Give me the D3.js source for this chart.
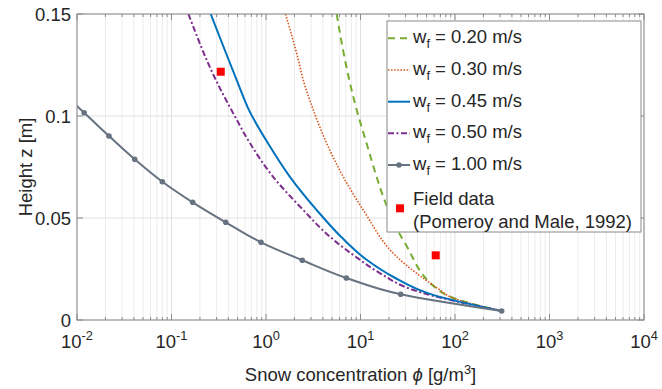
<!DOCTYPE html>
<html>
<head>
<meta charset="utf-8">
<script src="https://cdn.jsdelivr.net/npm/d3@7"></script>
<style>
  html, body { margin: 0; padding: 0; background: #fff; }
  svg { display: block; font-family: "Liberation Sans", Arial, Helvetica, sans-serif; }
</style>
</head>
<body>
<svg id="chart" width="662" height="389"></svg>
<script>
// ---- data ----
const seriesNames = ["0.20", "0.30", "0.45", "0.50", "1.00"];

const phi020 = [5.60, 6.85, 9.12, 11.6, 14.8, 17.4, 29.6, 75.1, 199, 312];
const z020   = [0.150, 0.1275, 0.1029, 0.0866, 0.0702, 0.0604, 0.0376, 0.0131, 0.0065, 0.0044];

const phi030 = [1.61, 2.20, 2.48, 3.17, 4.39, 6.57, 10.7, 24.2, 69.3, 88.5, 312];
const z030   = [0.150, 0.1275, 0.1176, 0.1029, 0.0866, 0.0702, 0.0539, 0.0310, 0.0147, 0.0114, 0.0044];

const phi045 = [0.260, 0.490, 0.661, 1.05, 1.79, 3.44, 6.22, 11.7, 22.1, 58.5, 312];
const z045   = [0.150, 0.1176, 0.1029, 0.0866, 0.0702, 0.0539, 0.0408, 0.0294, 0.0212, 0.0123, 0.0044];

const phi050 = [0.151, 0.295, 0.470, 0.678, 1.19, 2.48, 4.75, 9.40, 16.1, 36.2, 312];
const z050   = [0.150, 0.1176, 0.0997, 0.0866, 0.0702, 0.0539, 0.0408, 0.0302, 0.0229, 0.0147, 0.0044];

const phi100 = [0.0063, 0.0119, 0.0218, 0.0408, 0.080, 0.1675, 0.375, 0.885, 2.42, 7.08, 26.6, 312];
const z100   = [0.1132, 0.1016, 0.0902, 0.0788, 0.0678, 0.0577, 0.0479, 0.0381, 0.0293, 0.0206, 0.0126, 0.0044];

const fieldPhi = [0.332, 62.5];
const fieldZ   = [0.1217, 0.0317];

const xTickExps = [-2, -1, 0, 1, 2, 3, 4];
const yTicks = [0, 0.05, 0.1, 0.15];
const yTickLabels = ["0", "0.05", "0.1", "0.15"];

// ---- layout ----
const svg = d3.select("#chart");
const L = 77, R = 644, T = 14, B = 320;
const FS = 18.5, FS_SMALL = 12.8;
const x = d3.scaleLog().domain([1e-2, 1e4]).range([L, R]);
const y = d3.scaleLinear().domain([0, 0.15]).range([B, T]);
const textColor = "#262626";
const axisColor = "#8a8a8a";

// grid
const minorVals = [];
for (let e = -2; e < 4; e++) for (let m = 2; m <= 9; m++) minorVals.push(m * Math.pow(10, e));
const grid = svg.append("g");
grid.selectAll("line.minor").data(minorVals).enter().append("line")
  .attr("x1", d => x(d)).attr("x2", d => x(d)).attr("y1", T).attr("y2", B)
  .attr("stroke", "#ececec").attr("stroke-width", 1);
grid.selectAll("line.majx").data(xTickExps).enter().append("line")
  .attr("x1", d => x(Math.pow(10, d))).attr("x2", d => x(Math.pow(10, d))).attr("y1", T).attr("y2", B)
  .attr("stroke", "#e0e0e0").attr("stroke-width", 1);
grid.selectAll("line.majy").data(yTicks).enter().append("line")
  .attr("x1", L).attr("x2", R).attr("y1", d => y(d)).attr("y2", d => y(d))
  .attr("stroke", "#e0e0e0").attr("stroke-width", 1);

// ticks (inward, on all four sides)
const tk = svg.append("g").attr("stroke", axisColor).attr("stroke-width", 1);
minorVals.forEach(v => {
  tk.append("line").attr("x1", x(v)).attr("x2", x(v)).attr("y1", B).attr("y2", B - 3);
  tk.append("line").attr("x1", x(v)).attr("x2", x(v)).attr("y1", T).attr("y2", T + 3);
});
xTickExps.forEach(e => {
  const v = Math.pow(10, e);
  tk.append("line").attr("x1", x(v)).attr("x2", x(v)).attr("y1", B).attr("y2", B - 6);
  tk.append("line").attr("x1", x(v)).attr("x2", x(v)).attr("y1", T).attr("y2", T + 6);
});
yTicks.forEach(v => {
  tk.append("line").attr("x1", L).attr("x2", L + 6).attr("y1", y(v)).attr("y2", y(v));
  tk.append("line").attr("x1", R).attr("x2", R - 6).attr("y1", y(v)).attr("y2", y(v));
});

// clip
svg.append("defs").append("clipPath").attr("id", "plotclip")
  .append("rect").attr("x", L).attr("y", T).attr("width", R - L).attr("height", B - T);

const plot = svg.append("g").attr("clip-path", "url(#plotclip)");
const line = d3.line().x(d => x(d[0])).y(d => y(d[1])).curve(d3.curveMonotoneY);
const zip = (a, b) => a.map((v, i) => [v, b[i]]);

const series = [
  { phi: phi020, z: z020, color: "#77AC30", width: 2, dash: "7,5" },
  { phi: phi030, z: z030, color: "#D95319", width: 1.6, dash: "1.5,1.6" },
  { phi: phi050, z: z050, color: "#7E2F8E", width: 2, dash: "6,2.5,2,2.5" },
  { phi: phi045, z: z045, color: "#0072BD", width: 2, dash: null },
  { phi: phi100, z: z100, color: "#677381", width: 2, dash: null, marker: true }
];
series.forEach(s => {
  const p = plot.append("path").datum(zip(s.phi, s.z)).attr("d", line)
    .attr("fill", "none").attr("stroke", s.color).attr("stroke-width", s.width);
  if (s.dash) p.attr("stroke-dasharray", s.dash);
  if (s.marker) {
    plot.selectAll(null).data(zip(s.phi, s.z)).enter().append("circle")
      .attr("cx", d => x(d[0])).attr("cy", d => y(d[1])).attr("r", 2.8).attr("fill", s.color);
  }
});
plot.selectAll(null).data(zip(fieldPhi, fieldZ)).enter().append("rect")
  .attr("x", d => x(d[0]) - 4).attr("y", d => y(d[1]) - 4).attr("width", 8).attr("height", 8)
  .attr("fill", "#ff0000");

// axes box
svg.append("rect").attr("x", L).attr("y", T).attr("width", R - L).attr("height", B - T)
  .attr("fill", "none").attr("stroke", axisColor).attr("stroke-width", 1);

// tick labels
yTicks.forEach((v, i) => {
  svg.append("text").attr("x", 71).attr("y", y(v) + 6.6).attr("text-anchor", "end")
    .attr("font-size", FS).attr("fill", textColor).text(yTickLabels[i]);
});
xTickExps.forEach(e => {
  const t = svg.append("text").attr("x", x(Math.pow(10, e))).attr("y", 348)
    .attr("text-anchor", "middle").attr("font-size", FS).attr("fill", textColor);
  t.append("tspan").text("10");
  t.append("tspan").attr("dy", -8).attr("font-size", FS_SMALL).text(String(e));
});

// axis labels
svg.append("text").attr("transform", "translate(31.5,167) rotate(-90)")
  .attr("text-anchor", "middle").attr("font-size", FS).attr("fill", textColor).text("Height z [m]");
const xl = svg.append("text").attr("x", (L + R) / 2).attr("y", 381).attr("text-anchor", "middle")
  .attr("font-size", FS).attr("fill", textColor);
xl.append("tspan").text("Snow concentration ");
xl.append("tspan").attr("font-style", "italic").text("ϕ");
xl.append("tspan").text(" [g/m");
xl.append("tspan").attr("dy", -7).attr("font-size", FS_SMALL).text("3");
xl.append("tspan").attr("dy", 7).text("]");

// legend
const lg = svg.append("g");
lg.append("rect").attr("x", 387).attr("y", 21).attr("width", 254).attr("height", 211)
  .attr("fill", "#fff").attr("stroke", axisColor).attr("stroke-width", 1);
const legendBase = [43.3, 75, 106.7, 138.3, 170];
const legendOrder = [0, 1, 3, 2, 4]; // series index per legend row (0.20, 0.30, 0.45, 0.50, 1.00)
legendOrder.forEach((si, row) => {
  const s = series[si];
  const ly = legendBase[row] - 5;
  const ln = lg.append("line").attr("x1", 388).attr("x2", 410).attr("y1", ly).attr("y2", ly)
    .attr("stroke", s.color).attr("stroke-width", s.width);
  if (s.dash) ln.attr("stroke-dasharray", s.dash);
  if (s.marker) lg.append("circle").attr("cx", 399).attr("cy", ly).attr("r", 2.8).attr("fill", s.color);
  const t = lg.append("text").attr("x", 413).attr("y", legendBase[row]).attr("font-size", FS).attr("fill", textColor);
  t.append("tspan").text("w");
  t.append("tspan").attr("dy", 5).attr("font-size", FS_SMALL).text("f");
  t.append("tspan").attr("dy", -5).text(" = " + seriesNames[row] + " m/s");
});
lg.append("rect").attr("x", 396).attr("y", 204.3).attr("width", 8).attr("height", 8).attr("fill", "#ff0000");
lg.append("text").attr("x", 413).attr("y", 205).attr("font-size", FS).attr("fill", textColor).text("Field data");
lg.append("text").attr("x", 413).attr("y", 228).attr("font-size", FS).attr("fill", textColor).text("(Pomeroy and Male, 1992)");
</script>
</body>
</html>
